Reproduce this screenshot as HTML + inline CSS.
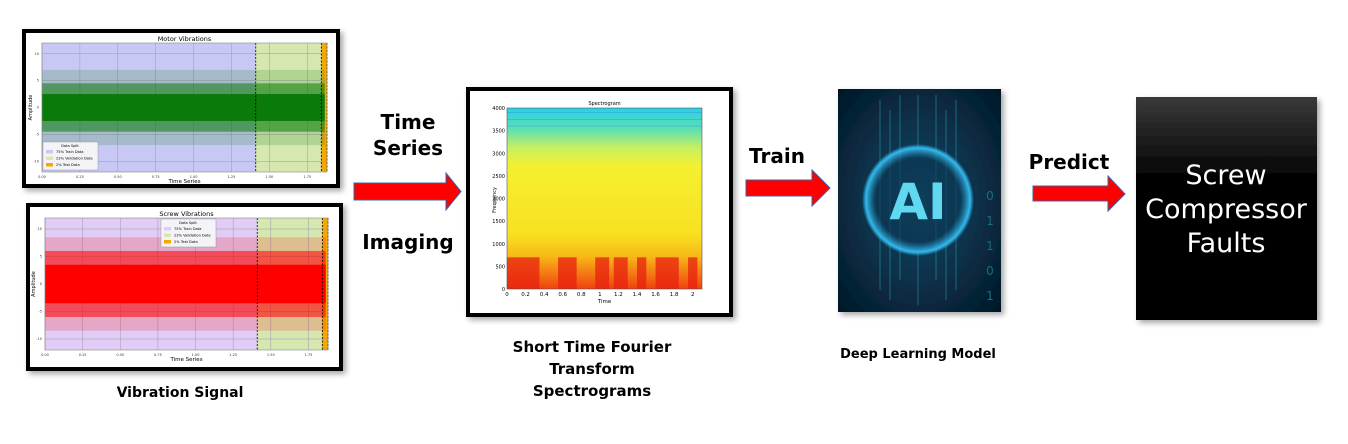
<!DOCTYPE html>
<html><head><meta charset="utf-8"><style>
html,body{margin:0;padding:0;background:#fff;}
svg{display:block;}
text{font-family:"DejaVu Sans","Liberation Sans",sans-serif;}
</style></head><body>
<svg id="root" width="1348" height="444" viewBox="0 0 1348 444" xmlns="http://www.w3.org/2000/svg">
<defs>
<linearGradient id="blackbox" x1="0" y1="0" x2="0" y2="1"><stop offset="0" stop-color="#3a3a3a"/><stop offset="0.35" stop-color="#050505"/><stop offset="1" stop-color="#000"/></linearGradient>
<linearGradient id="specgrad" x1="0" y1="0" x2="0" y2="1">
<stop offset="0" stop-color="#2ad0e8"/><stop offset="0.12" stop-color="#5fe0b0"/><stop offset="0.22" stop-color="#c8f060"/><stop offset="0.32" stop-color="#f4f030"/><stop offset="0.7" stop-color="#f8e020"/><stop offset="0.82" stop-color="#f8b818"/><stop offset="1" stop-color="#f04010"/></linearGradient>
<radialGradient id="aibg" cx="0.5" cy="0.5" r="0.7"><stop offset="0" stop-color="#0e4a6a"/><stop offset="1" stop-color="#041828"/></radialGradient>
<radialGradient id="glow" cx="0.5" cy="0.5" r="0.5"><stop offset="0.75" stop-color="#0a3550" stop-opacity="0.6"/><stop offset="0.93" stop-color="#38c8ff" stop-opacity="0.9"/><stop offset="1" stop-color="#38c8ff" stop-opacity="0"/></radialGradient>
<filter id="sh" x="-10%" y="-10%" width="130%" height="130%"><feDropShadow dx="3" dy="3" stdDeviation="3" flood-color="#000" flood-opacity="0.35"/></filter>
</defs>
<g id="charts"></g>
<g><polygon points="354,183 446,183 446,173 461,191.5 446,210 446,200 354,200" fill="#f00" stroke="#4060a0" stroke-width="1"/></g>
<text x="408" y="129" font-size="20" font-weight="bold" text-anchor="middle">Time</text>
<text x="408" y="155" font-size="20" font-weight="bold" text-anchor="middle">Series</text>
<text x="408" y="249" font-size="20" font-weight="bold" text-anchor="middle">Imaging</text>

<g><polygon points="746,180 812,180 812,170 830,188 812,206 812,196 746,196" fill="#f00" stroke="#4060a0" stroke-width="1"/></g>
<text x="777" y="163" font-size="20" font-weight="bold" text-anchor="middle">Train</text>

<g><polygon points="1033,186 1108,186 1108,176 1125,194 1108,211 1108,201 1033,201" fill="#f00" stroke="#4060a0" stroke-width="1"/></g>
<text x="1069" y="169" font-size="20" font-weight="bold" text-anchor="middle">Predict</text>

<g filter="url(#sh)">
<rect x="468" y="89" width="263" height="226" fill="#fff" stroke="#000" stroke-width="4"/>
</g>
<g id="specplot"></g>
<text x="592" y="352" font-size="15" font-weight="bold" text-anchor="middle">Short Time Fourier</text>
<text x="592" y="374" font-size="15" font-weight="bold" text-anchor="middle">Transform</text>
<text x="592" y="396" font-size="15" font-weight="bold" text-anchor="middle">Spectrograms</text>

<g filter="url(#sh)">
<rect x="838" y="89" width="163" height="223" fill="url(#aibg)"/>
<g stroke="#2a9ab8" stroke-width="0.8" opacity="0.7">
<line x1="880" y1="100" x2="880" y2="290"/><line x1="890" y1="110" x2="890" y2="300"/><line x1="900" y1="95" x2="900" y2="280"/><line x1="936" y1="95" x2="936" y2="280"/><line x1="946" y1="110" x2="946" y2="300"/><line x1="956" y1="100" x2="956" y2="290"/><line x1="918" y1="95" x2="918" y2="150"/><line x1="918" y1="250" x2="918" y2="305"/>
</g>
<circle cx="918" cy="200" r="56" fill="url(#glow)"/>
<text x="918" y="219" font-size="50" text-anchor="middle" fill="#5fd8f0" font-weight="bold" font-family="Liberation Sans, sans-serif">AI</text>
<text x="990" y="200" font-size="12" fill="#1a6a88" text-anchor="middle">0</text>
<text x="990" y="225" font-size="12" fill="#1a6a88" text-anchor="middle">1</text>
<text x="990" y="250" font-size="12" fill="#1a6a88" text-anchor="middle">1</text>
<text x="990" y="275" font-size="12" fill="#1a6a88" text-anchor="middle">0</text>
<text x="990" y="300" font-size="12" fill="#1a6a88" text-anchor="middle">1</text>
</g>
<text x="918" y="358" font-size="13" font-weight="bold" text-anchor="middle">Deep Learning Model</text>

<g filter="url(#sh)">
<rect x="1136" y="97" width="181" height="223" fill="url(#blackbox)"/>
</g>
<text x="1226" y="184" font-size="27" fill="#fff" text-anchor="middle">Screw</text>
<text x="1226" y="218" font-size="27" fill="#fff" text-anchor="middle">Compressor</text>
<text x="1226" y="252" font-size="27" fill="#fff" text-anchor="middle">Faults</text>

<text x="180" y="397" font-size="14" font-weight="bold" text-anchor="middle">Vibration Signal</text>
</svg>
<script>
const splitFractions = [0.75, 0.23, 0.02];
const splitLabels = ["75% Train Data", "23% Validation Data", "2% Test Data"];
const xTickLabels = ["0.00", "0.25", "0.50", "0.75", "1.00", "1.25", "1.50", "1.75"];
const xTickValues = [0, 0.25, 0.5, 0.75, 1.0, 1.25, 1.5, 1.75];
const yTickValues = [10, 5, 0, -5, -10];
// amplitude envelope (spike extent, outer, core)
const motorEnvelope = [7, 4.5, 2.5];
const screwEnvelope = [8.5, 6, 3.5];
const specTimeTicks = ["0", "0.2", "0.4", "0.6", "0.8", "1", "1.2", "1.4", "1.6", "1.8", "2"];
const specFreqTicks = [0, 500, 1000, 1500, 2000, 2500, 3000, 3500, 4000];
const specBurstStart = [0.0, 0.55, 0.95, 1.15, 1.4, 1.6, 1.95];
const specBurstEnd = [0.35, 0.75, 1.1, 1.3, 1.5, 1.85, 2.05];

const NS = "http://www.w3.org/2000/svg";
function mk(tag, attrs, parent){const e=document.createElementNS(NS,tag);for(const k in attrs)e.setAttribute(k,attrs[k]);parent.appendChild(e);return e;}
const charts = document.getElementById('charts');

function drawChart(o){
  const g = mk('g', {}, charts);
  
  
  mk('rect',{x:o.bx,y:o.by,width:o.bw,height:o.bh,fill:'#fff',stroke:'#000','stroke-width':4,filter:'url(#sh)'},g);
  const x0=o.px, x1=o.px+o.pw, xmax=1.88;
  const sx = v => x0 + v/xmax*o.pw;
  const sy = v => o.py + o.ph/2 - v/12*(o.ph/2);
  const a = splitFractions[0], b = splitFractions[0]+splitFractions[1];
  const r1=mk('rect',{x:x0,y:o.py,width:a*o.pw,height:o.ph,fill:o.trainColor},g);
  
  const r2=mk('rect',{x:x0+a*o.pw,y:o.py,width:(b-a)*o.pw,height:o.ph,fill:'#d6e8b0'},g);
  
  const r3=mk('rect',{x:x0+b*o.pw,y:o.py,width:(1-b)*o.pw,height:o.ph,fill:'#f5a800'},g);
  
  xTickValues.forEach((v,i)=>{
    mk('line',{x1:sx(v),x2:sx(v),y1:o.py,y2:o.py+o.ph,stroke:'#9a9ab0','stroke-width':0.5},g);
    const t=mk('text',{x:sx(v),y:o.py+o.ph+6,'font-size':3.5,'text-anchor':'middle',fill:'#333'},g);
    t.textContent=xTickLabels[i];
  });
  yTickValues.forEach(v=>{
    mk('line',{x1:x0,x2:x1,y1:sy(v),y2:sy(v),stroke:'#9a9ab0','stroke-width':0.5},g);
    const t=mk('text',{x:x0-3,y:sy(v)+1,'font-size':3.5,'text-anchor':'end',fill:'#333'},g);
    t.textContent=v;
  });
  const env=o.env;
  const w=b*o.pw+(1-b)*o.pw*0.6;
  const sp=mk('rect',{x:x0,y:sy(env[0]),width:w,height:sy(-env[0])-sy(env[0]),fill:o.sigColor,opacity:0.18},g);
  
  const band=mk('rect',{x:x0,y:sy(env[1]),width:w,height:sy(-env[1])-sy(env[1]),fill:o.sigColor,opacity:0.55},g);
  
  const core=mk('rect',{x:x0,y:sy(env[2]),width:w,height:sy(-env[2])-sy(env[2]),fill:o.sigColor},g);
  
  [a,b,1].forEach(f=>mk('line',{x1:x0+f*o.pw,x2:x0+f*o.pw,y1:o.py,y2:o.py+o.ph,stroke:'#000','stroke-width':0.8,'stroke-dasharray':'2,1.5'},g));
  mk('rect',{x:x0,y:o.py,width:o.pw,height:o.ph,fill:'none',stroke:'#888','stroke-width':0.6},g);
  const ti=mk('text',{x:x0+o.pw/2,y:o.py-2,'font-size':6.5,'text-anchor':'middle'},g); ti.textContent=o.title;
  const xl=mk('text',{x:x0+o.pw/2,y:o.py+o.ph+11,'font-size':5.5,'text-anchor':'middle'},g); xl.textContent='Time Series';
  const yl=mk('text',{x:o.px-10,y:o.py+o.ph/2,'font-size':5,'text-anchor':'middle',transform:`rotate(-90 ${o.px-10} ${o.py+o.ph/2})`},g); yl.textContent='Amplitude';
  const lg=mk('g',{},g);
  
  
  mk('rect',{x:o.lx,y:o.ly,width:55,height:28,fill:'#f4f4f8',stroke:'#999','stroke-width':0.5},lg);
  const lt=mk('text',{x:o.lx+27,y:o.ly+5,'font-size':3.6,'text-anchor':'middle'},lg); lt.textContent='Data Split';
  const cols=[o.trainColor,'#d6e8b0','#f5a800'];
  splitLabels.forEach((s,i)=>{
    mk('rect',{x:o.lx+3,y:o.ly+8+i*6.5,width:7,height:3.5,fill:cols[i]},lg);
    const t=mk('text',{x:o.lx+13,y:o.ly+11.2+i*6.5,'font-size':3.6},lg); t.textContent=s;
  });
}
drawChart({name:'motor-vibrations-chart',bx:24,by:31,bw:314,bh:155,px:42,py:43,pw:285,ph:129,title:'Motor Vibrations',trainColor:'#c8c8f4',sigColor:'#0a7a0a',env:motorEnvelope,lx:43,ly:142});
drawChart({name:'screw-vibrations-chart',bx:28,by:205,bw:313,bh:164,px:45,py:218,pw:283,ph:132,title:'Screw Vibrations',trainColor:'#e0ccf4',sigColor:'#ff0000',env:screwEnvelope,lx:161,ly:219});

const sg=document.getElementById('specplot');
const SX0=507, SX1=702, SY0=108, SY1=289;
const tx = v => SX0 + v/2.1*(SX1-SX0);
const fy = v => SY1 - v/4000*(SY1-SY0);
const spi=mk('rect',{x:SX0,y:SY0,width:SX1-SX0,height:SY1-SY0,fill:'url(#specgrad)'},sg);

specBurstStart.forEach((s,i)=>{
  const r=mk('rect',{x:tx(s),y:fy(700),width:tx(specBurstEnd[i])-tx(s),height:fy(0)-fy(700),fill:'#e82010',opacity:0.75},sg);
  
});
for(let f=3600; f<=3900; f+=150) mk('line',{x1:SX0,x2:SX1,y1:fy(f),y2:fy(f),stroke:'#2080e0','stroke-width':0.6,opacity:0.5},sg);
mk('rect',{x:SX0,y:SY0,width:SX1-SX0,height:SY1-SY0,fill:'none',stroke:'#555','stroke-width':0.6},sg);
specTimeTicks.forEach((l,i)=>{const t=mk('text',{x:tx(i*0.2),y:SY1+7,'font-size':5.5,'text-anchor':'middle'},sg);t.textContent=l;});
specFreqTicks.forEach(v=>{const t=mk('text',{x:SX0-2,y:fy(v)+2,'font-size':5,'text-anchor':'end'},sg);t.textContent=v;});
const st=mk('text',{x:(SX0+SX1)/2,y:SY0-3,'font-size':5,'text-anchor':'middle'},sg); st.textContent='Spectrogram';
const sxl=mk('text',{x:(SX0+SX1)/2,y:SY1+14,'font-size':5.5,'text-anchor':'middle'},sg); sxl.textContent='Time';
const syl=mk('text',{x:496,y:200,'font-size':5,'text-anchor':'middle',transform:'rotate(-90 496 200)'},sg); syl.textContent='Frequency';
</script>
</body></html>
